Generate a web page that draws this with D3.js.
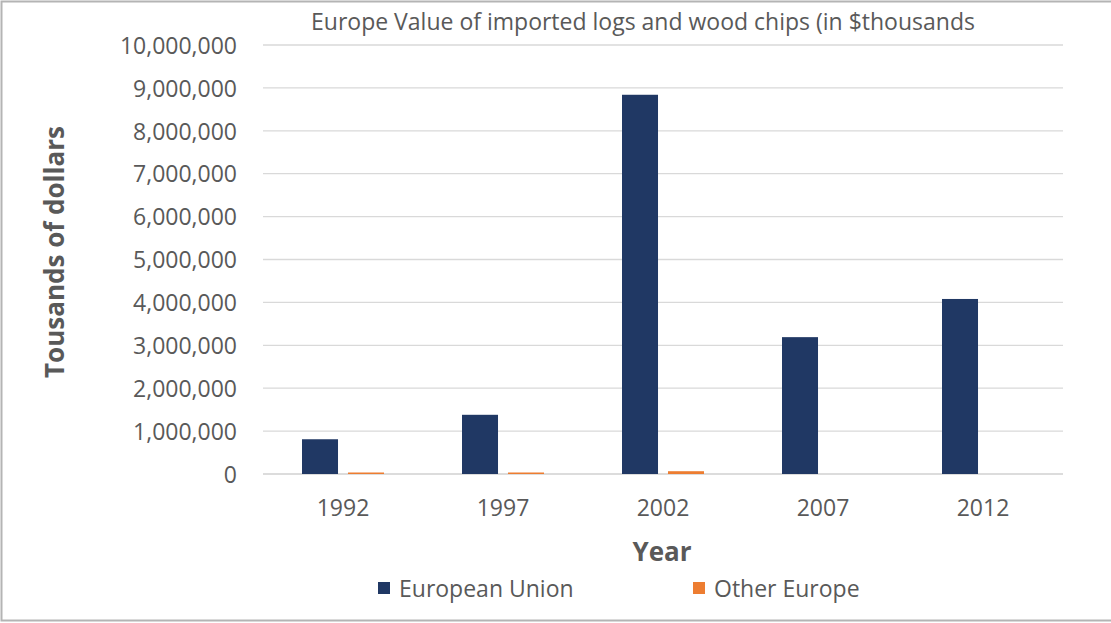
<!DOCTYPE html>
<html>
<head>
<meta charset="utf-8">
<script src="https://cdn.jsdelivr.net/npm/d3@7"></script>
<style>
  body { margin: 0; background: #fff; }
  text { font-family: "Open Sans", "Noto Sans", sans-serif; fill: #595959; }
</style>
</head>
<body>
<script>
var chartWidth = 1111;
var chartHeight = 623;
var years = ["1992", "1997", "2002", "2007", "2012"];
var seriesNames = ["European Union", "Other Europe"];
var euValues = [810000, 1380000, 8840000, 3190000, 4080000];
var otherValues = [35000, 35000, 65000, 0, 0];
var colorArray = ["#203864", "#ed7d31"];
var yTicks = [0, 1000000, 2000000, 3000000, 4000000, 5000000, 6000000, 7000000, 8000000, 9000000, 10000000];

var rows = years.map(function(y, i){
  return {year: y, values: [euValues[i], otherValues[i]]};
});

const SVG = d3.select("body")
              .append("svg")
              .attr("width", chartWidth)
              .attr("height", chartHeight);

// chart frame
SVG.append("rect")
   .attr("x", 1.5).attr("y", 1.5)
   .attr("width", 1120).attr("height", 619)
   .attr("fill", "none")
   .attr("stroke", "#b4b4b4")
   .attr("stroke-width", 2);

var xScale = d3.scaleBand()
               .domain(years)
               .range([263, 1063]);

var xInner = d3.scaleBand()
               .domain([0, 1])
               .range([39, 121])
               .paddingInner(0.217);

var yScale = d3.scaleLinear()
               .domain([0, 10000000])
               .range([474, 45]);

// gridlines
SVG.append("g")
   .selectAll("line")
   .data(yTicks)
   .enter()
   .append("line")
   .attr("x1", 263)
   .attr("x2", 1063)
   .attr("y1", (d) => yScale(d))
   .attr("y2", (d) => yScale(d))
   .attr("stroke", (d) => d === 0 ? "#d0d0d0" : "#d9d9d9")
   .attr("stroke-width", 1.3);

var yAxis = d3.axisLeft(yScale)
              .tickValues(yTicks)
              .tickFormat(d3.format(","))
              .tickSize(0)
              .tickPadding(0);

var yG = SVG.append("g")
   .attr("transform", "translate(237,0)")
   .call(yAxis);
yG.select(".domain").remove();
yG.selectAll("text")
  .attr("font-size", 23)
  .attr("font-family", "Open Sans")
  .attr("fill", "#595959")
  .attr("dy", "0.36em");

var xAxis = d3.axisBottom(xScale)
              .tickSize(0)
              .tickPadding(0);

var xG = SVG.append("g")
   .attr("transform", "translate(0,500)")
   .call(xAxis);
xG.select(".domain").remove();
xG.selectAll("text")
  .attr("font-size", 23)
  .attr("font-family", "Open Sans")
  .attr("fill", "#595959");

// bars
var groups = SVG.selectAll(".group")
                .data(rows)
                .enter()
                .append("g")
                .attr("class", "group")
                .attr("transform", (d) => "translate(" + xScale(d.year) + ",0)");

groups.selectAll("rect")
      .data((d) => d.values)
      .enter()
      .append("rect")
      .attr("x", (d, i) => xInner(i))
      .attr("width", xInner.bandwidth())
      .attr("y", (d) => yScale(d))
      .attr("height", (d) => yScale(0) - yScale(d))
      .attr("fill", (d, i) => colorArray[i]);

// titles
SVG.append("text")
   .attr("x", 643)
   .attr("y", 30)
   .attr("text-anchor", "middle")
   .attr("font-size", 23)
   .text("Europe Value of imported logs and wood chips (in $thousands");

SVG.append("text")
   .attr("x", 662)
   .attr("y", 561)
   .attr("text-anchor", "middle")
   .attr("font-size", 26)
   .attr("font-weight", "bold")
   .text("Year");

SVG.append("text")
   .attr("transform", "translate(64,252) rotate(-90)")
   .attr("text-anchor", "middle")
   .attr("font-size", 26)
   .attr("font-weight", "bold")
   .text("Tousands of dollars");

// legend
var legendX = [378, 693];
var legend = SVG.selectAll(".legend")
                .data(seriesNames)
                .enter()
                .append("g")
                .attr("class", "legend")
                .attr("transform", (d, i) => "translate(" + legendX[i] + ",582)");

legend.append("rect")
      .attr("width", 12)
      .attr("height", 12)
      .attr("fill", (d, i) => colorArray[i]);

legend.append("text")
      .attr("x", 21)
      .attr("y", 15)
      .attr("font-size", 23)
      .text((d) => d);
</script>
</body>
</html>
